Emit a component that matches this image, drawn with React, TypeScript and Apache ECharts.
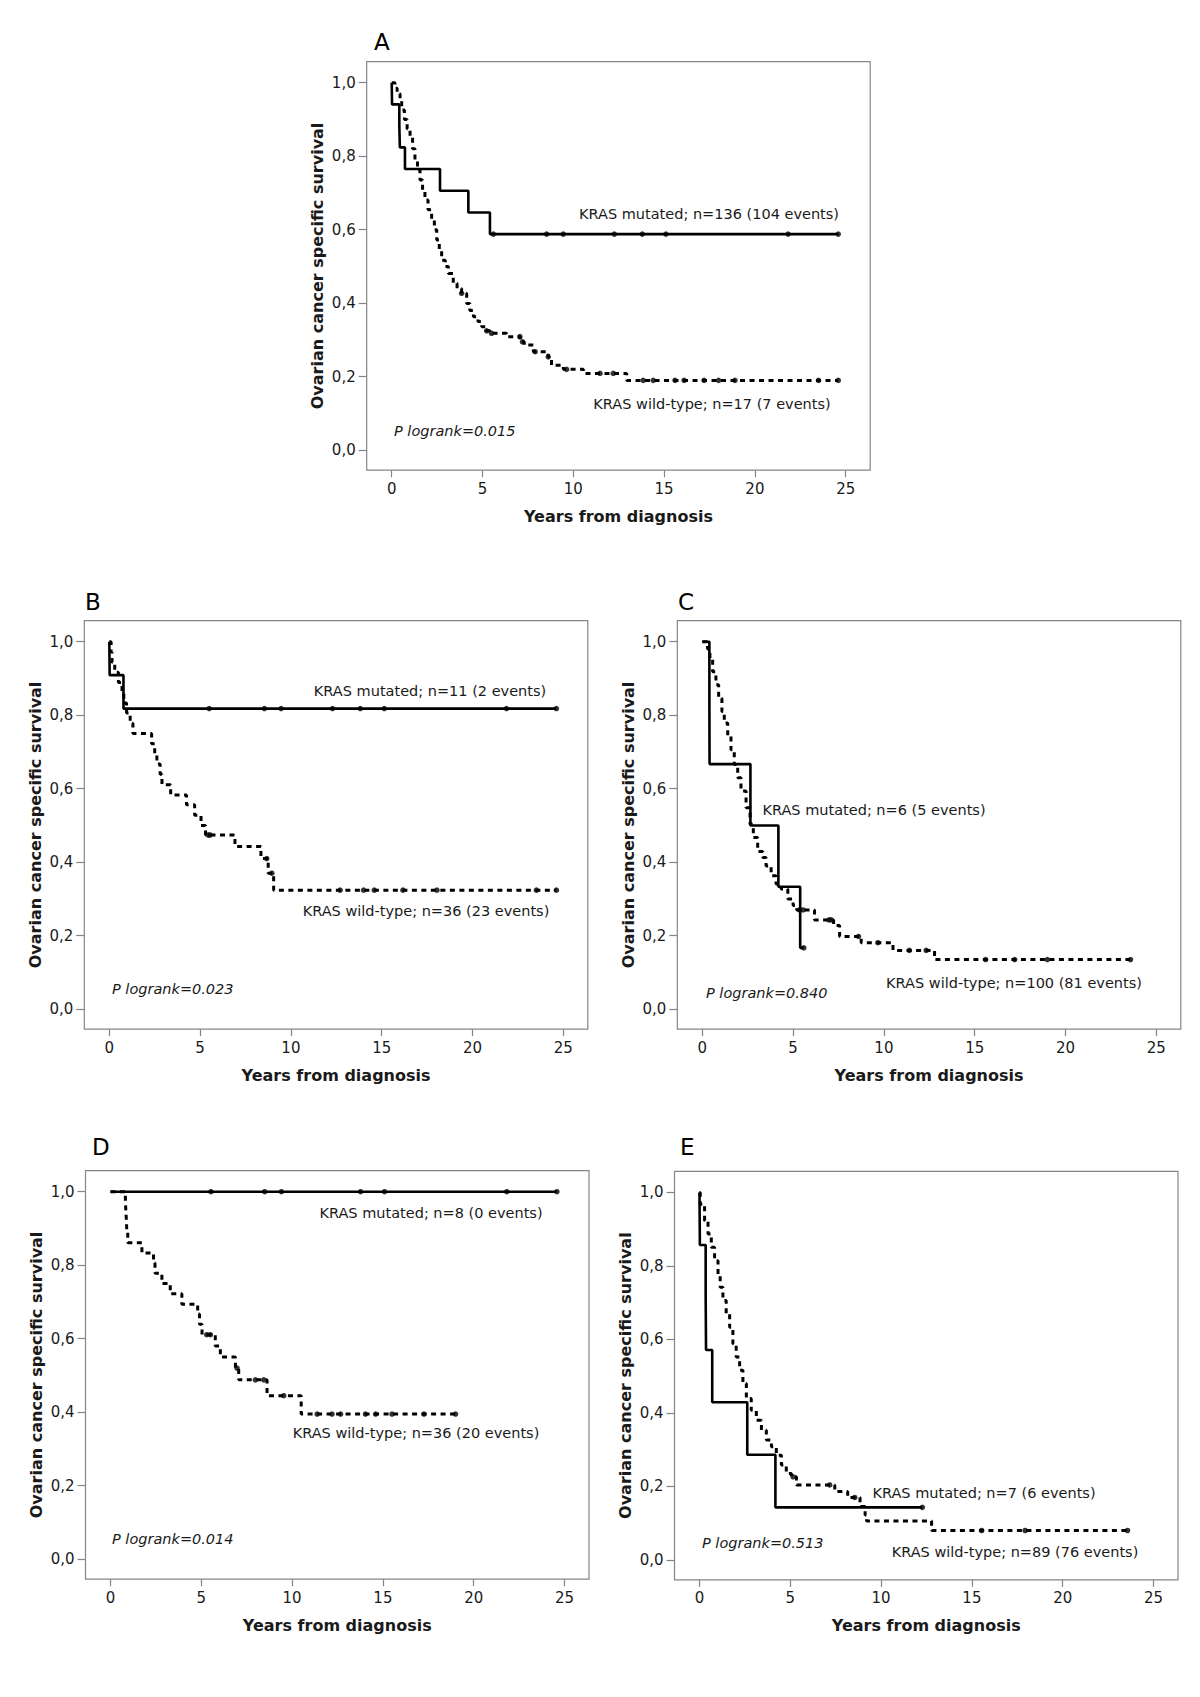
import React, { useEffect, useRef } from "react";
import * as echarts from "echarts";

const FONT = '"DejaVu Sans", "Liberation Sans", sans-serif';

// ---------- axis tick labels ----------
const X_TICKS = [0, 5, 10, 15, 20, 25];
const Y_TICKS = [0, 0.2, 0.4, 0.6, 0.8, 1.0];
const Y_TICK_LABELS = ["0,0", "0,2", "0,4", "0,6", "0,8", "1,0"];
const X_TITLE = "Years from diagnosis";
const Y_TITLE = "Ovarian cancer specific survival";

// ---------- Panel A ----------
const A_MUT_EVENT_T = [0.02, 0.42, 0.45, 0.73, 2.66, 4.22, 5.41];
const A_MUT_EVENT_S = [0.941, 0.882, 0.824, 0.765, 0.706, 0.647, 0.588];
const A_MUT_CENSOR_T = [5.6, 8.53, 9.45, 12.26, 13.8, 15.1, 21.83, 24.59];
const A_WT_EVENT_T = [0.18, 0.3, 0.46, 0.55, 0.7, 0.85, 1.01, 1.15, 1.28, 1.42, 1.56, 1.7, 1.83, 2.0, 2.2, 2.35, 2.48, 2.62, 2.75, 2.95, 3.12, 3.39, 3.6, 3.85, 4.13, 4.3, 4.5, 4.75, 4.96, 5.2, 5.41, 6.33, 7.07, 7.3, 7.8, 8.62, 8.8, 9.45, 10.55, 12.94];
const A_WT_EVENT_S = [0.985, 0.97, 0.957, 0.926, 0.9, 0.875, 0.853, 0.82, 0.79, 0.762, 0.735, 0.708, 0.681, 0.654, 0.626, 0.6, 0.572, 0.545, 0.517, 0.5, 0.481, 0.454, 0.44, 0.427, 0.399, 0.38, 0.363, 0.35, 0.336, 0.325, 0.318, 0.309, 0.295, 0.286, 0.268, 0.254, 0.231, 0.22, 0.209, 0.19];
const A_WT_CENSOR_T = [3.85, 5.23, 5.5, 7.06, 7.2, 7.9, 8.62, 9.63, 11.47, 12.2, 13.85, 14.4, 15.6, 16.1, 17.2, 18.0, 18.9, 23.5, 24.59];

// ---------- Panel B ----------
const B_MUT_EVENT_T = [0.02, 0.78];
const B_MUT_EVENT_S = [0.909, 0.818];
const B_MUT_CENSOR_T = [5.5, 8.54, 9.46, 12.29, 13.82, 15.14, 21.87, 24.62];
const B_WT_EVENT_T = [0.1, 0.15, 0.3, 0.5, 0.7, 0.8, 0.95, 1.15, 1.3, 2.33, 2.5, 2.62, 2.8, 2.9, 3.38, 4.25, 4.7, 5.05, 5.3, 6.92, 8.35, 8.75, 9.05];
const B_WT_EVENT_S = [0.972, 0.944, 0.917, 0.889, 0.861, 0.833, 0.806, 0.778, 0.75, 0.722, 0.694, 0.667, 0.639, 0.611, 0.583, 0.556, 0.528, 0.5, 0.474, 0.443, 0.41, 0.37, 0.324];
const B_WT_CENSOR_T = [5.45, 5.55, 8.67, 8.95, 12.71, 14.0, 14.59, 16.17, 18.04, 23.52, 24.62];

// ---------- Panel C ----------
const C_MUT_EVENT_T = [0.39, 0.4, 2.65, 4.19, 5.39];
const C_MUT_EVENT_S = [0.833, 0.667, 0.5, 0.333, 0.167];
const C_MUT_CENSOR_T = [5.59];
const C_WT_EVENT_T = [0.29, 0.42, 0.57, 0.75, 0.9, 1.08, 1.21, 1.4, 1.58, 1.76, 1.95, 2.13, 2.41, 2.63, 2.81, 3.05, 3.33, 3.51, 3.79, 4.06, 4.34, 4.71, 5.0, 5.2, 6.18, 7.23, 7.56, 8.75, 10.5, 12.79];
const C_WT_EVENT_S = [0.98, 0.955, 0.918, 0.883, 0.846, 0.81, 0.779, 0.743, 0.706, 0.666, 0.63, 0.594, 0.548, 0.503, 0.467, 0.429, 0.413, 0.39, 0.363, 0.341, 0.327, 0.3, 0.282, 0.27, 0.243, 0.228, 0.198, 0.181, 0.16, 0.135];
const C_WT_CENSOR_T = [5.35, 5.55, 6.98, 7.1, 8.6, 9.67, 11.4, 12.33, 15.6, 17.2, 19.0, 23.58];

// ---------- Panel D ----------
const D_MUT_EVENT_T: number[] = [];
const D_MUT_EVENT_S: number[] = [];
const D_MUT_CENSOR_T = [5.53, 8.49, 9.41, 13.77, 15.09, 21.82, 24.58];
const D_WT_EVENT_T = [0.82, 0.85, 0.88, 0.9, 0.95, 1.73, 2.37, 2.45, 2.83, 3.29, 3.93, 4.8, 4.9, 5.04, 5.77, 6.05, 6.88, 7.06, 8.62, 10.5];
const D_WT_EVENT_S = [0.972, 0.944, 0.917, 0.889, 0.861, 0.833, 0.806, 0.778, 0.75, 0.722, 0.694, 0.667, 0.639, 0.611, 0.58, 0.55, 0.52, 0.488, 0.445, 0.395];
const D_WT_CENSOR_T = [5.3, 5.5, 6.97, 7.98, 8.44, 9.54, 11.38, 12.2, 12.67, 14.04, 14.6, 15.5, 17.26, 19.0];

// ---------- Panel E ----------
const E_MUT_EVENT_T = [0.02, 0.34, 0.36, 0.7, 2.63, 4.18];
const E_MUT_EVENT_S = [0.857, 0.714, 0.571, 0.429, 0.286, 0.143];
const E_MUT_CENSOR_T = [12.27];
const E_WT_EVENT_T = [0.04, 0.28, 0.47, 0.65, 0.83, 1.02, 1.14, 1.29, 1.47, 1.66, 1.84, 2.02, 2.21, 2.39, 2.58, 2.85, 3.13, 3.41, 3.68, 3.96, 4.23, 4.51, 4.78, 5.06, 5.34, 7.45, 8.16, 8.84, 9.12, 9.2, 12.78];
const E_WT_EVENT_S = [0.968, 0.923, 0.887, 0.851, 0.814, 0.778, 0.742, 0.706, 0.67, 0.633, 0.588, 0.552, 0.516, 0.48, 0.439, 0.407, 0.38, 0.353, 0.326, 0.308, 0.285, 0.258, 0.235, 0.226, 0.204, 0.186, 0.17, 0.145, 0.122, 0.106, 0.08];
const E_WT_CENSOR_T = [5.15, 7.17, 8.55, 15.54, 17.93, 23.57];

// ---------- texts ----------
const LETTERS = ["A", "B", "C", "D", "E"];
const MUT_LABELS = [
  "KRAS mutated; n=136 (104 events)",
  "KRAS mutated; n=11 (2 events)",
  "KRAS mutated; n=6 (5 events)",
  "KRAS mutated; n=8 (0 events)",
  "KRAS mutated; n=7 (6 events)",
];
const WT_LABELS = [
  "KRAS wild-type; n=17 (7 events)",
  "KRAS wild-type; n=36 (23 events)",
  "KRAS wild-type; n=100 (81 events)",
  "KRAS wild-type; n=36 (20 events)",
  "KRAS wild-type; n=89 (76 events)",
];
const P_LABELS = [
  "P logrank=0.015",
  "P logrank=0.023",
  "P logrank=0.840",
  "P logrank=0.014",
  "P logrank=0.513",
];

// ---------- layout (pixels) ----------
const FRAME_W = 503.5;
const FRAME_H = 408.5;
const PAD_L = 25;
const PAD_R = 24.5;
const PAD_T = 21;
const PAD_B = 20;
const PX_PER_YEAR = (FRAME_W - PAD_L - PAD_R) / 25;
const PX_PER_UNIT = FRAME_H - PAD_T - PAD_B;
const X_MIN = -PAD_L / PX_PER_YEAR;
const X_MAX = 25 + PAD_R / PX_PER_YEAR;
const Y_MIN = -PAD_B / PX_PER_UNIT;
const Y_MAX = 1 + PAD_T / PX_PER_UNIT;

const FRAMES = [
  [366.7, 61.7],
  [84.3, 620.7],
  [677.3, 620.7],
  [85.5, 1170.7],
  [674.5, 1171.4],
];
const LETTER_POS = [
  [374, 42],
  [85, 602],
  [678, 602],
  [92, 1147],
  [680, 1147],
];
const MUT_POS = [
  [709, 214],
  [430, 691],
  [874, 810],
  [431, 1213],
  [984, 1493],
];
const WT_POS = [
  [712, 404],
  [426, 911],
  [1014, 983],
  [416, 1433],
  [1015, 1552],
];
const P_POS = [
  [394, 431],
  [112, 989],
  [706, 993],
  [112, 1539],
  [702, 1543],
];

const PANEL_DATA = [
  [A_MUT_EVENT_T, A_MUT_EVENT_S, A_MUT_CENSOR_T, A_WT_EVENT_T, A_WT_EVENT_S, A_WT_CENSOR_T],
  [B_MUT_EVENT_T, B_MUT_EVENT_S, B_MUT_CENSOR_T, B_WT_EVENT_T, B_WT_EVENT_S, B_WT_CENSOR_T],
  [C_MUT_EVENT_T, C_MUT_EVENT_S, C_MUT_CENSOR_T, C_WT_EVENT_T, C_WT_EVENT_S, C_WT_CENSOR_T],
  [D_MUT_EVENT_T, D_MUT_EVENT_S, D_MUT_CENSOR_T, D_WT_EVENT_T, D_WT_EVENT_S, D_WT_CENSOR_T],
  [E_MUT_EVENT_T, E_MUT_EVENT_S, E_MUT_CENSOR_T, E_WT_EVENT_T, E_WT_EVENT_S, E_WT_CENSOR_T],
];

function kmPoints(eT: number[], eS: number[], cT: number[]) {
  const pts: number[][] = [[0, 1]];
  for (let i = 0; i < eT.length; i++) pts.push([eT[i], eS[i]]);
  const lastT = Math.max(...cT, ...eT, 0);
  const lastS = eS.length ? eS[eS.length - 1] : 1;
  if (lastT > pts[pts.length - 1][0]) pts.push([lastT, lastS]);
  return pts;
}

function survivalAt(t: number, eT: number[], eS: number[]) {
  let s = 1;
  for (let i = 0; i < eT.length; i++) if (eT[i] <= t) s = eS[i];
  return s;
}

const TEXT_COLOR = "#1a1a1a";
const FRAME_COLOR = "#858585";

function buildOption() {
  const grids: any[] = [];
  const xAxes: any[] = [];
  const yAxes: any[] = [];
  const series: any[] = [];
  const graphics: any[] = [];

  FRAMES.forEach(([fl, ft], i) => {
    grids.push({
      left: fl,
      top: ft,
      width: FRAME_W,
      height: FRAME_H,
      containLabel: false,
      show: true,
      borderColor: FRAME_COLOR,
      borderWidth: 1.2,
      backgroundColor: "transparent",
    });
    xAxes.push({
      type: "value",
      gridIndex: i,
      position: "bottom",
      min: X_MIN,
      max: X_MAX,
      axisLine: { show: false, onZero: false },
      axisTick: {
        show: true,
        inside: false,
        length: 7,
        customValues: X_TICKS,
        lineStyle: { color: FRAME_COLOR, width: 1.2 },
      },
      axisLabel: {
        show: true,
        margin: 11,
        fontSize: 15,
        fontFamily: FONT,
        color: TEXT_COLOR,
        customValues: X_TICKS,
        formatter: (v: number) => String(Math.round(v)),
      },
      splitLine: { show: false },
    });
    yAxes.push({
      type: "value",
      gridIndex: i,
      position: "left",
      min: Y_MIN,
      max: Y_MAX,
      axisLine: { show: false, onZero: false },
      axisTick: {
        show: true,
        inside: false,
        length: 8,
        customValues: Y_TICKS,
        lineStyle: { color: FRAME_COLOR, width: 1.2 },
      },
      axisLabel: {
        show: true,
        margin: 11,
        fontSize: 15,
        fontFamily: FONT,
        color: TEXT_COLOR,
        customValues: Y_TICKS,
        formatter: (v: number) => Y_TICK_LABELS[Math.round(v / 0.2)],
      },
      splitLine: { show: false },
    });

    const [mT, mS, mC, wT, wS, wC] = PANEL_DATA[i];
    series.push({
      type: "line",
      xAxisIndex: i,
      yAxisIndex: i,
      data: kmPoints(wT, wS, wC),
      step: "end",
      symbol: "none",
      showSymbol: false,
      clip: false,
      silent: true,
      lineStyle: { color: "#000", width: 3, type: [5, 4.5] },
      z: 2,
    });
    series.push({
      type: "scatter",
      xAxisIndex: i,
      yAxisIndex: i,
      data: wC.map((t) => [t, survivalAt(t, wT, wS)]),
      symbol: "circle",
      symbolSize: 5.5,
      clip: false,
      silent: true,
      itemStyle: { color: "#000" },
      z: 3,
    });
    series.push({
      type: "line",
      xAxisIndex: i,
      yAxisIndex: i,
      data: kmPoints(mT, mS, mC),
      step: "end",
      symbol: "none",
      showSymbol: false,
      clip: false,
      silent: true,
      lineStyle: { color: "#000", width: 2.6, type: "solid" },
      z: 4,
    });
    series.push({
      type: "scatter",
      xAxisIndex: i,
      yAxisIndex: i,
      data: mC.map((t) => [t, survivalAt(t, mT, mS)]),
      symbol: "circle",
      symbolSize: 5.5,
      clip: false,
      silent: true,
      itemStyle: { color: "#000" },
      z: 5,
    });

    // panel letter
    graphics.push({
      type: "text",
      silent: true,
      x: LETTER_POS[i][0],
      y: LETTER_POS[i][1],
      style: {
        text: LETTERS[i],
        fill: "#000",
        fontSize: 23,
        fontFamily: FONT,
        align: "left",
        verticalAlign: "middle",
        textAlign: "left",
        textVerticalAlign: "middle",
      },
    });
    // x title
    graphics.push({
      type: "text",
      silent: true,
      x: fl + FRAME_W / 2,
      y: ft + FRAME_H + 46,
      style: {
        text: X_TITLE,
        fill: TEXT_COLOR,
        fontSize: 16,
        fontWeight: "bold",
        fontFamily: FONT,
        align: "center",
        verticalAlign: "middle",
        textAlign: "center",
        textVerticalAlign: "middle",
      },
    });
    // y title
    graphics.push({
      type: "text",
      silent: true,
      x: fl - 49,
      y: ft + FRAME_H / 2,
      rotation: Math.PI / 2,
      style: {
        text: Y_TITLE,
        fill: TEXT_COLOR,
        fontSize: 16,
        fontWeight: "bold",
        fontFamily: FONT,
        align: "center",
        verticalAlign: "middle",
        textAlign: "center",
        textVerticalAlign: "middle",
      },
    });
    const annot = (text: string, pos: number[], align: string, italic: boolean) => ({
      type: "text",
      silent: true,
      x: pos[0],
      y: pos[1],
      style: {
        text,
        fill: TEXT_COLOR,
        fontSize: 14.5,
        fontStyle: italic ? "italic" : "normal",
        fontFamily: FONT,
        align,
        verticalAlign: "middle",
        textAlign: align,
        textVerticalAlign: "middle",
      },
    });
    graphics.push(annot(MUT_LABELS[i], MUT_POS[i], "center", false));
    graphics.push(annot(WT_LABELS[i], WT_POS[i], "center", false));
    graphics.push(annot(P_LABELS[i], P_POS[i], "left", true));
  });

  return {
    animation: false,
    backgroundColor: "#ffffff",
    textStyle: { fontFamily: FONT },
    grid: grids,
    xAxis: xAxes,
    yAxis: yAxes,
    series,
    graphic: { elements: graphics },
  };
}

export default function App() {
  const ref = useRef<HTMLDivElement>(null);
  useEffect(() => {
    if (!ref.current) return;
    const chart = echarts.init(ref.current, null, { renderer: "svg" });
    chart.setOption(buildOption() as any);
    return () => chart.dispose();
  }, []);
  return (
    <div
      ref={ref}
      style={{ position: "absolute", left: 0, top: 0, width: 1200, height: 1697, background: "#fff" }}
    />
  );
}
